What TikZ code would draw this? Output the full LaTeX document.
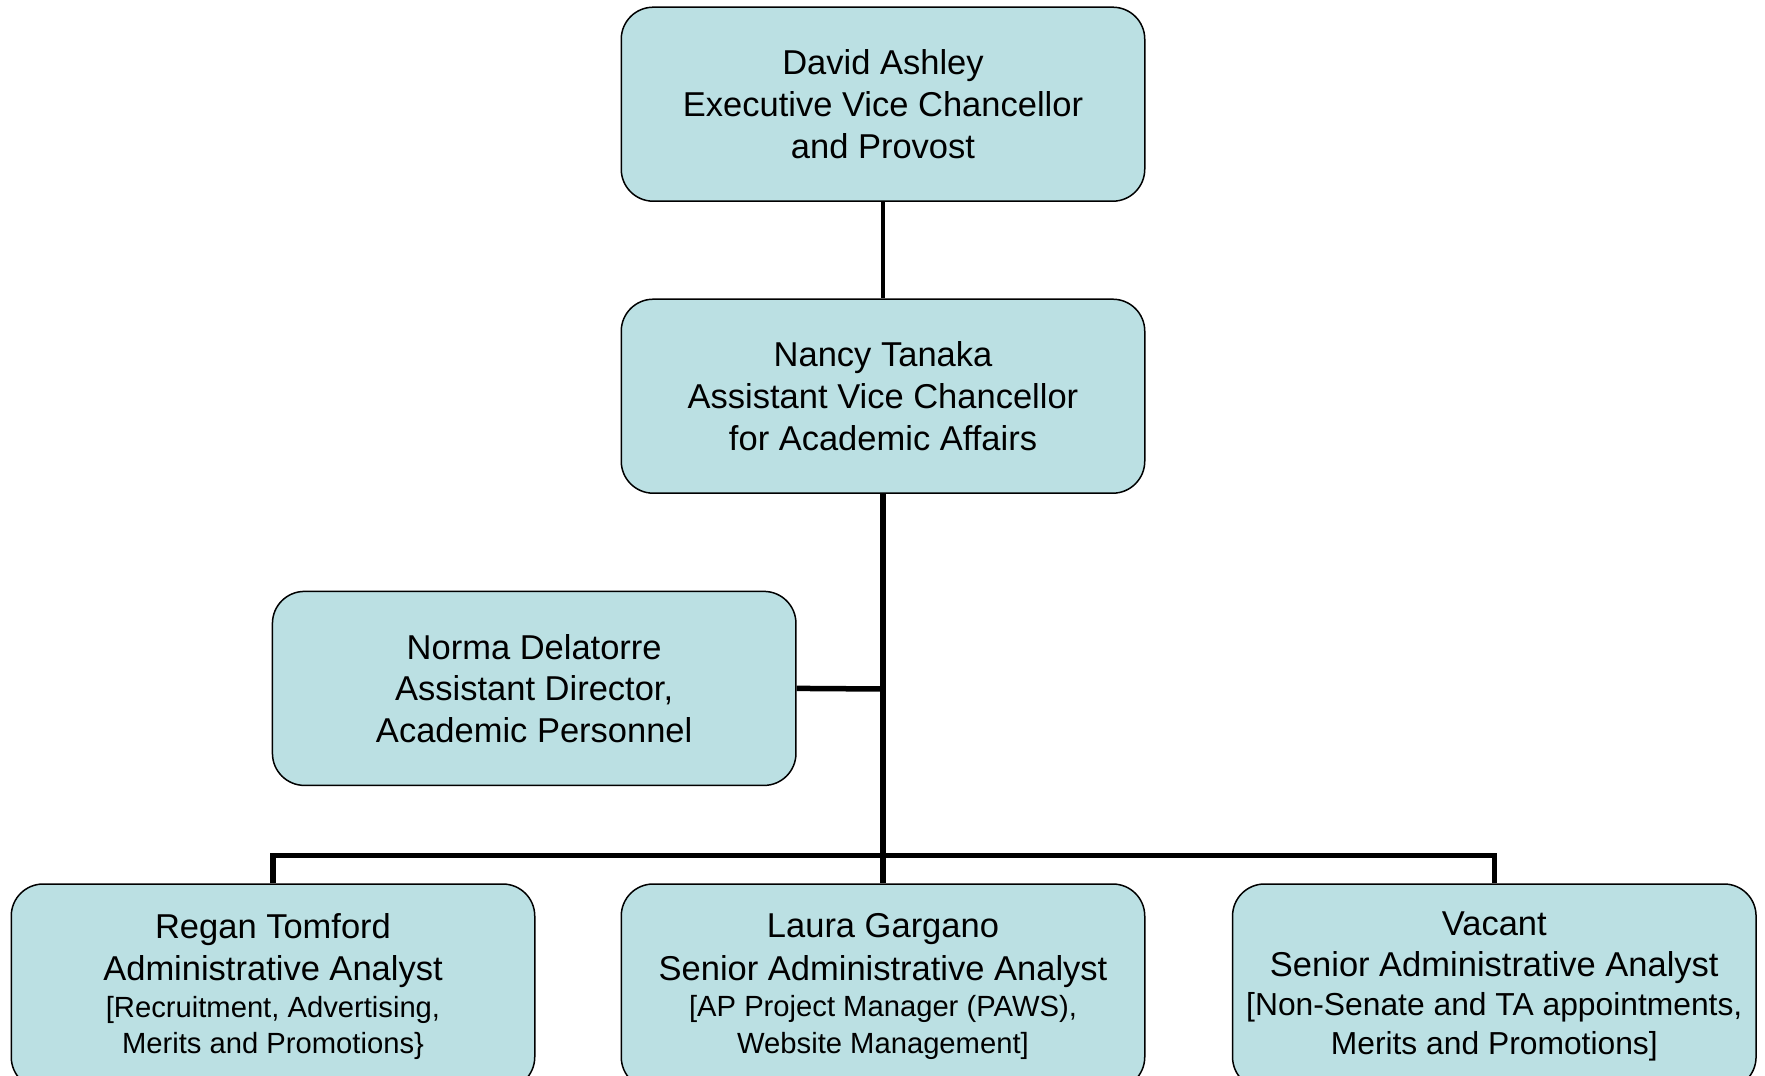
\documentclass[tikz,border=0pt]{standalone}
\usepackage{fontspec}
\setmainfont{Liberation Sans}
\newcommand{\smA}{\fontsize{29.2}{36}\selectfont}
\newcommand{\smB}{\fontsize{31.8}{38}\selectfont}
\begin{document}
\begin{tikzpicture}[x=1pt,y=-1pt,
  box/.style={draw=black, line width=1.5pt, fill=boxfill, rounded corners=32pt,
    minimum width=523.5pt, minimum height=194pt, align=center, inner sep=0pt,
    font=\fontsize{34.5}{41.6}\selectfont, text=black},
  lowbox/.style={box, minimum height=205pt},
  conn/.style={line width=5.5pt, draw=black},
  thinconn/.style={line width=3.5pt, draw=black}]
\definecolor{boxfill}{RGB}{187,224,227}
\useasboundingbox (0,0) rectangle (1765,1076);
\node[box] (top) at (883,104.2) {David Ashley\\Executive Vice Chancellor\\and Provost};
\node[box] (nancy) at (883,396.2) {Nancy Tanaka\\Assistant Vice Chancellor\\for Academic Affairs};
\node[box] (norma) at (534.2,688.4) {Norma Delatorre\\Assistant Director,\\Academic Personnel};
\node[lowbox] (regan) at (273,986.5) {Regan Tomford\\[1pt]Administrative Analyst\\[-5.5pt]\smA{}[Recruitment, Advertising,\\[-5pt]\smA{}Merits and Promotions\}};
\node[lowbox] (laura) at (883,986.5) {Laura Gargano\\[1pt]Senior Administrative Analyst\\[-5.5pt]\smA{}[AP Project Manager (PAWS),\\[-5pt]\smA{}Website Management]};
\node[lowbox] (vacant) at (1494.3,986.5) {Vacant\\Senior Administrative Analyst\\[-3pt]\smB{}[Non-Senate and TA appointments,\\[-2pt]\smB{}Merits and Promotions]};
\coordinate (busL) at (273,855.5);
\coordinate (busR) at (1494.3,855.5);
\coordinate (nj) at (883,689);
\draw[thinconn] (top.south) -- (nancy.north);
\draw[conn] (nancy.south) -- (laura.north);
\draw[conn] (norma.east) -- (nj);
\draw[conn] (regan.north) -- (busL) -- (busR) -- (vacant.north);
\end{tikzpicture}
\end{document}
